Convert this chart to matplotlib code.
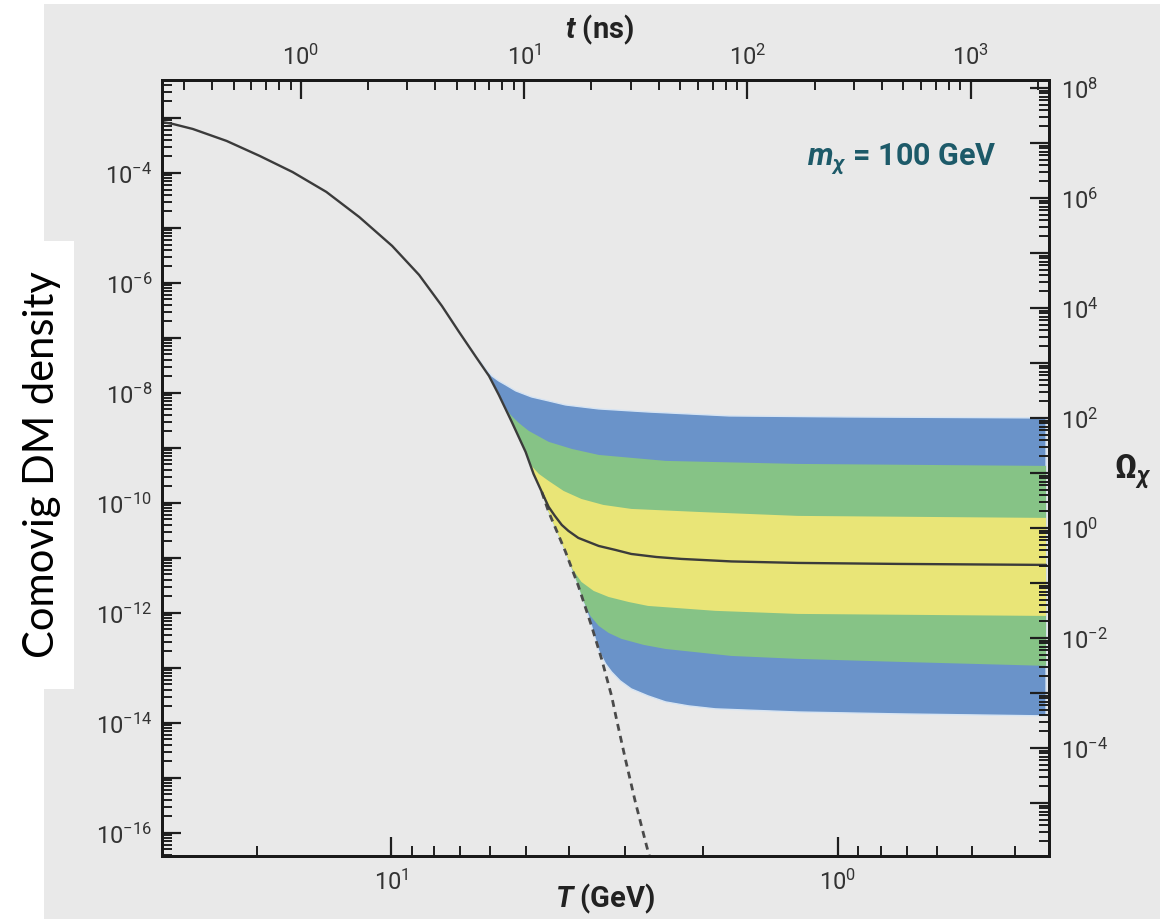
import numpy as np
import matplotlib
matplotlib.use("Agg")
import matplotlib.pyplot as plt
from matplotlib.ticker import LogLocator, FixedLocator, FuncFormatter, NullFormatter
from matplotlib.patches import Rectangle

plt.rcParams['font.family'] = ['Roboto', 'DejaVu Sans']
plt.rcParams['mathtext.fontset'] = 'custom'
plt.rcParams['mathtext.rm'] = 'Roboto'
plt.rcParams['mathtext.it'] = 'Roboto:italic'
plt.rcParams['mathtext.bf'] = 'Roboto:bold'
plt.rcParams['mathtext.bfit'] = 'Roboto:italic:bold'

# ---------------- data ----------------
# equilibrium abundance (solid above freeze-out, dashed below)
eq_T = np.array([32.6, 30.83, 27.82, 23.36, 19.70, 16.63, 13.97, 11.79, 9.95, 8.66,
                 7.70, 7.05, 6.46, 6.04, 5.74, 5.37, 5.00, 4.80, 4.60,
                 4.44, 4.26, 4.07, 3.81, 3.56, 3.38, 3.21, 3.13, 2.99, 2.84, 2.68, 2.63])
eq_Y = np.array([8.45e-4, 7.78e-4, 6.31e-4, 3.82e-4, 2.04e-4, 1.04e-4, 4.52e-5, 1.58e-5,
                 4.71e-6, 1.40e-6, 3.82e-7, 1.29e-7, 4.52e-8, 2.04e-8, 9.20e-9, 2.97e-9,
                 8.46e-10, 3.37e-10, 1.58e-10,
                 6.85e-11, 3.10e-11, 1.29e-11, 3.10e-12, 5.81e-13, 1.46e-13, 3.10e-14,
                 1.18e-14, 2.21e-15, 3.66e-16, 5.81e-17, 3.37e-17])
freeze_T = 4.60

# relic (freeze-out) curve after leaving equilibrium
relic_T = np.array([4.44, 4.30, 4.15, 4.01, 3.81, 3.43, 3.15, 2.90, 2.55, 2.24,
                    1.73, 1.23, 0.735, 0.3416])
relic_Y = np.array([8.46e-11, 5.81e-11, 3.98e-11, 3.10e-11, 2.31e-11, 1.65e-11,
                    1.40e-11, 1.18e-11, 1.04e-11, 9.59e-12, 8.63e-12, 8.11e-12,
                    7.78e-12, 7.46e-12])

# band edges (each starts on the equilibrium curve)
blue_top_T = np.array([6.33, 6.14, 5.95, 5.74, 5.54, 5.26, 4.85, 4.44, 4.07, 3.43,
                       2.66, 1.75, 0.950, 0.3416])
blue_top_Y = np.array([3.82e-8, 2.73e-8, 2.04e-8, 1.65e-8, 1.40e-8, 1.09e-8, 8.46e-9,
                       7.16e-9, 6.05e-9, 5.12e-9, 4.51e-9, 3.82e-9, 3.66e-9, 3.51e-9])
blue_bot_T = np.array([3.43, 3.31, 3.21, 3.07, 2.90, 2.66, 2.43, 2.16, 1.88, 1.23,
                       0.735, 0.3416])
blue_bot_Y = np.array([2.04e-13, 1.18e-13, 8.45e-14, 5.81e-14, 4.15e-14, 3.10e-14,
                       2.41e-14, 2.04e-14, 1.80e-14, 1.58e-14, 1.46e-14, 1.34e-14])

green_top_T = np.array([5.57, 5.40, 5.18, 4.92, 4.44, 3.94, 3.43, 2.43, 1.23, 0.3416])
green_top_Y = np.array([5.56e-9, 3.98e-9, 2.85e-9, 2.04e-9, 1.29e-9, 9.59e-10,
                        7.46e-10, 5.81e-10, 5.12e-10, 4.71e-10])
green_bot_T = np.array([3.71, 3.58, 3.43, 3.26, 3.05, 2.72, 2.43, 1.73, 1.23, 0.735,
                        0.3416])
green_bot_Y = np.array([1.65e-12, 8.81e-13, 5.81e-13, 4.33e-13, 3.37e-13, 2.62e-13,
                        2.21e-13, 1.65e-13, 1.46e-13, 1.29e-13, 1.09e-13])

yellow_top_T = np.array([4.95, 4.85, 4.67, 4.44, 4.11, 3.75, 3.35, 2.90, 2.05, 1.23,
                         0.3416])
yellow_top_Y = np.array([6.58e-10, 4.71e-10, 3.37e-10, 2.51e-10, 1.65e-10, 1.18e-10,
                         9.20e-11, 7.78e-11, 6.85e-11, 5.81e-11, 5.34e-11])
yellow_bot_T = np.array([4.09, 3.93, 3.75, 3.52, 3.26, 2.94, 2.66, 1.88, 1.23, 0.3416])
yellow_bot_Y = np.array([1.40e-11, 6.31e-12, 3.66e-12, 2.51e-12, 1.95e-12, 1.58e-12,
                         1.34e-12, 1.09e-12, 9.59e-13, 8.81e-13])

T_range = (32.6, 0.3365)          # GeV, bottom axis (decreasing)
Y_range = (3.8e-17, 4.9e-3)       # comoving density, left axis
omega_per_Y = 2.86e10             # right-axis scale factor
t_per_invT2 = 254.0               # t(ns) = 254 / T^2

left_labels = [-16, -14, -12, -10, -8, -6, -4]
right_labels = [-4, -2, 0, 2, 4, 6, 8]
top_labels = [0, 1, 2, 3]
bottom_labels = [0, 1]
bottom_minor = [20, 9, 8, 7, 6, 5, 4, 3, 2, 0.9, 0.8, 0.7, 0.6, 0.5, 0.4]

# ---------------- figure ----------------
W, H = 1173, 920
fig = plt.figure(figsize=(W / 100, H / 100), dpi=100)
fig.patch.set_facecolor('white')
gray = '#e9e9e9'
fig.add_artist(Rectangle((44 / W, 0), (1160 - 44) / W, 915 / H,
                         transform=fig.transFigure, facecolor=gray,
                         edgecolor='none', zorder=0))

ax = fig.add_axes([162 / W, 1 - 857 / H, (1049 - 162) / W, (857 - 81) / H])
ax.set_facecolor(gray)
ax.set_xscale('log')
ax.set_yscale('log')
ax.set_xlim(*T_range)
ax.set_ylim(*Y_range)


def band(upT, upY, loT, loY):
    m = (eq_T < upT[0]) & (eq_T > loT[0])
    xs = np.concatenate([upT, loT[::-1], eq_T[m][::-1]])
    ys = np.concatenate([upY, loY[::-1], eq_Y[m][::-1]])
    return xs, ys


c_blue, c_green, c_yellow = '#6a93c9', '#86c386', '#e9e577'
xs, ys = band(blue_top_T, blue_top_Y, blue_bot_T, blue_bot_Y)
ax.fill(xs, ys, facecolor=c_blue, edgecolor='#d6e4f3', lw=1.0, zorder=2)
xs, ys = band(green_top_T, green_top_Y, green_bot_T, green_bot_Y)
ax.fill(xs, ys, facecolor=c_green, edgecolor='none', zorder=3)
xs, ys = band(yellow_top_T, yellow_top_Y, yellow_bot_T, yellow_bot_Y)
ax.fill(xs, ys, facecolor=c_yellow, edgecolor='none', zorder=4)

line_col = '#3b3b3b'
solid_T = np.concatenate([eq_T[eq_T >= freeze_T], relic_T])
solid_Y = np.concatenate([eq_Y[eq_T >= freeze_T], relic_Y])
ax.plot(solid_T, solid_Y, color=line_col, lw=1.7, zorder=6,
        solid_capstyle='round', solid_joinstyle='round')
ax.plot(eq_T[eq_T <= freeze_T], eq_Y[eq_T <= freeze_T], color='#4a4a4a', lw=2.0,
        ls=(0, (2.5, 1.9)), zorder=5)


def pow_fmt(allowed):
    def f(v, pos):
        e = int(round(np.log10(v)))
        if e in allowed and abs(np.log10(v) - e) < 1e-6:
            return r'$10^{%d}$' % e
        return ''
    return FuncFormatter(f)


tick_col = '#1e1e1e'
lab_col = '#333333'
lab_size = 17

# left / bottom
ax.yaxis.set_major_locator(LogLocator(base=10, numticks=40))
ax.yaxis.set_minor_locator(LogLocator(base=10, subs=np.arange(2, 10), numticks=200))
ax.yaxis.set_major_formatter(pow_fmt(left_labels))
ax.yaxis.set_minor_formatter(NullFormatter())
ax.xaxis.set_major_locator(LogLocator(base=10, numticks=20))
ax.xaxis.set_minor_locator(FixedLocator(bottom_minor))
ax.xaxis.set_major_formatter(pow_fmt(bottom_labels))
ax.xaxis.set_minor_formatter(NullFormatter())
ax.tick_params(which='both', direction='in', top=False, right=False,
               color=tick_col, labelcolor=lab_col, labelsize=lab_size)
ax.tick_params(which='major', length=14, width=1.6)
ax.tick_params(which='minor', length=7, width=1.4)
ax.tick_params(axis='y', pad=7)
ax.tick_params(axis='x', pad=9)

# right (Omega)
axr = ax.twinx()
axr.set_yscale('log')
axr.set_ylim(Y_range[0] * omega_per_Y, Y_range[1] * omega_per_Y)
axr.yaxis.set_major_locator(LogLocator(base=10, numticks=40))
axr.yaxis.set_minor_locator(LogLocator(base=10, subs=np.arange(2, 10), numticks=200))
axr.yaxis.set_major_formatter(pow_fmt(right_labels))
axr.yaxis.set_minor_formatter(NullFormatter())
axr.tick_params(which='both', direction='in', color=tick_col, labelcolor=lab_col,
                labelsize=lab_size, pad=9)
axr.tick_params(which='major', length=14, width=1.6)
axr.tick_params(which='minor', length=7, width=1.4)

# top (time)
axt = ax.twiny()
axt.set_xscale('log')
axt.set_xlim(t_per_invT2 / T_range[0] ** 2, t_per_invT2 / T_range[1] ** 2)
axt.xaxis.set_major_locator(LogLocator(base=10, numticks=20))
axt.xaxis.set_minor_locator(LogLocator(base=10, subs=np.arange(2, 10), numticks=100))
axt.xaxis.set_major_formatter(pow_fmt(top_labels))
axt.xaxis.set_minor_formatter(NullFormatter())
axt.tick_params(which='both', direction='in', color=tick_col, labelcolor=lab_col,
                labelsize=lab_size, pad=8)
axt.tick_params(which='major', length=14, width=1.6)
axt.tick_params(which='minor', length=7, width=1.4)

for a in (ax, axr, axt):
    for s in a.spines.values():
        s.set_linewidth(2.0)
        s.set_color('#1a1a1a')

# titles / annotations
fig.text(600 / W, 1 - 30 / H, r'$\mathbfit{t}$ (ns)', ha='center', va='center',
         fontsize=21, fontweight='bold', color='#222222')
fig.text(605 / W, 1 - 899 / H, r'$\mathbfit{T}$ (GeV)', ha='center', va='center',
         fontsize=21, fontweight='bold', color='#222222')
fig.text(1133 / W, 1 - 472 / H, r'$\mathbf{\Omega}_{\mathbfit{\chi}}$', ha='center',
         va='center', fontsize=24, color='#222222')
ax.text(0.941, 0.892, r'$\mathbfit{m}_{\mathbfit{\chi}}$ = 100 GeV', transform=ax.transAxes,
        ha='right', va='baseline', fontsize=22, fontweight='bold', color='#1d5a69', zorder=8)

# y label on white box
fig.add_artist(Rectangle((0, 1 - 690 / H), 74 / W, (690 - 242) / H,
                         transform=fig.transFigure, facecolor='white',
                         edgecolor='none', zorder=1))
fig.text(42 / W, 1 - 465 / H, 'Comovig DM density', rotation=90, ha='center', va='center',
         fontsize=30, family=['Lato', 'DejaVu Sans'], color='black', zorder=2)

fig.savefig('out.png', dpi=100, facecolor='white')
